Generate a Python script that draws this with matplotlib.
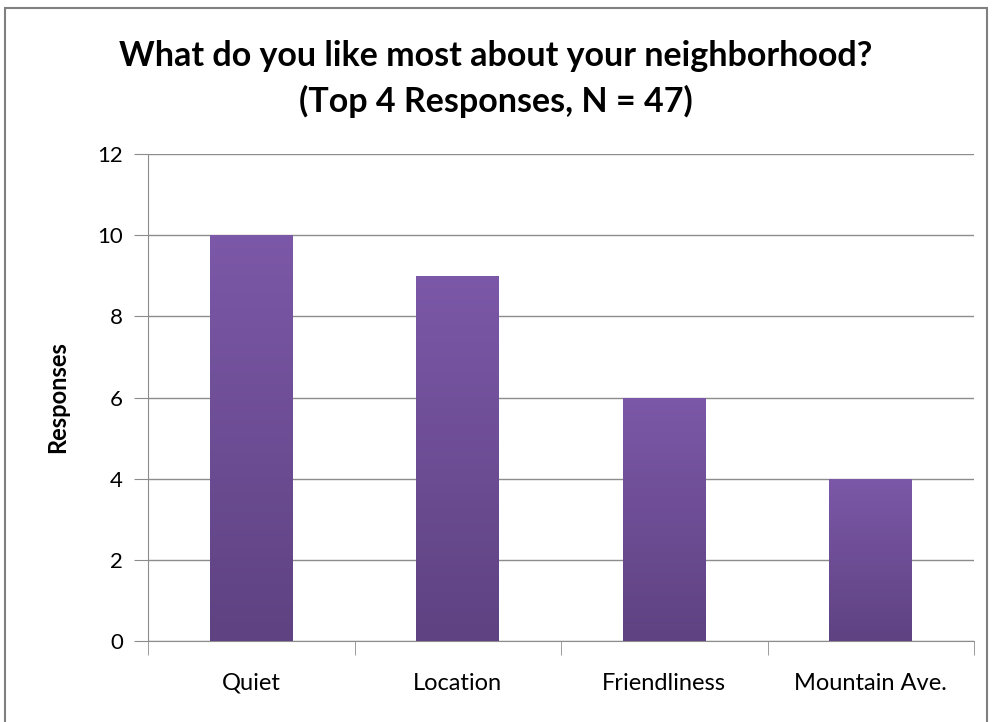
import numpy as np
import matplotlib.pyplot as plt
from matplotlib.colors import LinearSegmentedColormap
from matplotlib.patches import Rectangle

# data
categories = ["Quiet", "Location", "Friendliness", "Mountain Ave."]
responses = [10, 9, 6, 4]
title = "What do you like most about your neighborhood?\n(Top 4 Responses, N = 47)"

plt.rcParams['font.family'] = ['Lato', 'DejaVu Sans']

grid_color = '#8c8c8c'
bar_cmap = LinearSegmentedColormap.from_list('bar', ['#5e4281', '#7c58a8'])

fig = plt.figure(figsize=(9.92, 7.22), dpi=100)
ax = fig.add_axes([148 / 992, 1 - 641 / 722, (974 - 148) / 992, (641 - 154) / 722])

x = np.arange(len(categories))
bars = ax.bar(x, responses, width=0.4, color='none', edgecolor='none', zorder=3)

# vertical gradient in each bar
grad = np.linspace(0, 1, 256).reshape(-1, 1)
for b in bars:
    x0, w, h = b.get_x(), b.get_width(), b.get_height()
    im = ax.imshow(grad, cmap=bar_cmap, origin='lower', aspect='auto',
                   extent=[x0, x0 + w, 0, h], zorder=3)
    im.set_clip_path(b)

ax.set_xlim(-0.5, len(categories) - 0.5)
ax.set_ylim(0, 12)
ax.set_yticks(range(0, 13, 2))
ax.set_xticks(x)
ax.set_xticklabels(categories, fontsize=17)
ax.set_xticks(np.arange(-0.5, len(categories), 1), minor=True)
ax.tick_params(axis='x', which='major', length=0, pad=23)
ax.tick_params(axis='x', which='minor', length=10, color=grid_color, direction='out')
ax.tick_params(axis='y', length=10, color=grid_color, labelsize=16, pad=8)
ax.yaxis.grid(True, color=grid_color, linewidth=1.0, zorder=0)
ax.set_axisbelow(True)

for s in ['top', 'right']:
    ax.spines[s].set_visible(False)
for s in ['left', 'bottom']:
    ax.spines[s].set_color(grid_color)

ax.set_ylabel("Responses", fontsize=17, fontweight='bold', labelpad=20)
fig.suptitle(title, fontsize=24.5, fontweight='bold', y=0.945, linespacing=1.5)

# chart border
fig.patches.append(Rectangle((5 / 992, -0.01), (987 - 5) / 992, 1.01 - 8 / 722,
                             transform=fig.transFigure, fill=False,
                             edgecolor='#808080', linewidth=1.5))

fig.savefig('out.png', dpi=100)
